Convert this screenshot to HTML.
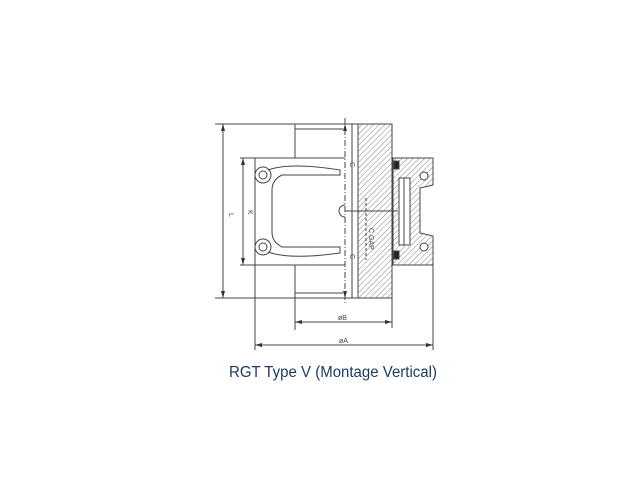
<!DOCTYPE html>
<html><head><meta charset="utf-8"><style>
html,body{margin:0;padding:0;background:#fff;width:640px;height:480px;overflow:hidden}
svg{position:absolute;left:0;top:0}
</style></head><body>
<svg width="640" height="480" viewBox="0 0 640 480" xmlns="http://www.w3.org/2000/svg">
<defs>
<pattern id="h" width="4" height="4" patternUnits="userSpaceOnUse" patternTransform="rotate(45)">
<line x1="0" y1="0" x2="0" y2="4" stroke="#666" stroke-width="0.8"/>
</pattern>
</defs>
<g fill="none" stroke="#444" stroke-width="1">
<line x1="215" y1="124" x2="392" y2="124"/>
<line x1="215" y1="298" x2="392" y2="298"/>
<line x1="295" y1="124" x2="295" y2="158"/>
<line x1="295" y1="265" x2="295" y2="330"/>
<line x1="295" y1="129" x2="343" y2="129"/>
<line x1="295" y1="293" x2="343" y2="293"/>
<line x1="352" y1="124" x2="352" y2="298"/>
<line x1="345" y1="118" x2="345" y2="305" stroke-dasharray="6,2,1,2"/>
<line x1="223" y1="124" x2="223" y2="298"/>
<path d="M240 158 L345 158 M240 265 L345 265 M255 158 L255 265"/>
<path d="M268 170 Q290 162 340 170 L340 175 L282 175 Q272 180 272 190 L272 232 Q272 242 282 247 L340 247 L340 253 Q290 260 268 252"/>
<line x1="243" y1="158" x2="243" y2="265"/>
<circle cx="263" cy="175" r="8"/><circle cx="263" cy="175" r="4"/>
<circle cx="263" cy="247" r="8"/><circle cx="263" cy="247" r="4"/>
<path d="M345 205 A6 6 0 0 0 345 217"/>
<rect x="358" y="124" width="34" height="174" fill="url(#h)"/>
<line x1="345" y1="211" x2="398" y2="211"/>
<path d="M393 158 L433 158 L433 185 L420 188 L420 233 L433 236 L433 265 L393 265 Z" fill="url(#h)"/>
<rect x="399" y="178" width="11" height="67" fill="#fff"/>
<line x1="404" y1="178" x2="404" y2="245"/>
<circle cx="424" cy="176" r="4" fill="#fff"/>
<circle cx="424" cy="247" r="4" fill="#fff"/>
<rect x="394" y="161" width="5" height="8" fill="#222"/>
<rect x="394" y="251" width="5" height="8" fill="#222"/>
<line x1="366" y1="198" x2="366" y2="260" stroke-dasharray="3,2"/>
<line x1="392" y1="298" x2="392" y2="328"/>
<line x1="295" y1="322" x2="392" y2="322"/>
<line x1="255" y1="265" x2="255" y2="350"/>
<line x1="433" y1="265" x2="433" y2="350"/>
<line x1="255" y1="345" x2="433" y2="345"/>
</g>
<g fill="#333" stroke="none">
<path d="M223 124 l-2 7 h4z M223 298 l-2 -7 h4z"/>
<path d="M243 158 l-2 7 h4z M243 265 l-2 -7 h4z"/>
<path d="M295 322 l7 -2 v4z M392 322 l-7 -2 v4z"/>
<path d="M255 345 l7 -2 v4z M433 345 l-7 -2 v4z"/>
<path d="M345 124 l-2 7 h4z M345 298 l-2 -7 h4z"/>
</g>
<g font-family="Liberation Sans, sans-serif" font-size="7" fill="#444">
<text x="229" y="213" transform="rotate(90 229 213)">L</text>
<text x="248" y="210" transform="rotate(90 248 210)">K</text>
<text x="350" y="162" transform="rotate(90 350 162)">C</text>
<text x="350" y="254" transform="rotate(90 350 254)">C</text>
<text x="369" y="228" transform="rotate(90 369 228)">C GAP</text>
<text x="338" y="320">øB</text>
<text x="339" y="343">øA</text>
</g>
<text x="229" y="377" font-family="Liberation Sans, sans-serif" font-size="15.5" textLength="208" lengthAdjust="spacingAndGlyphs" fill="#1f3a60">RGT Type V (Montage Vertical)</text>
</svg>
</body></html>
